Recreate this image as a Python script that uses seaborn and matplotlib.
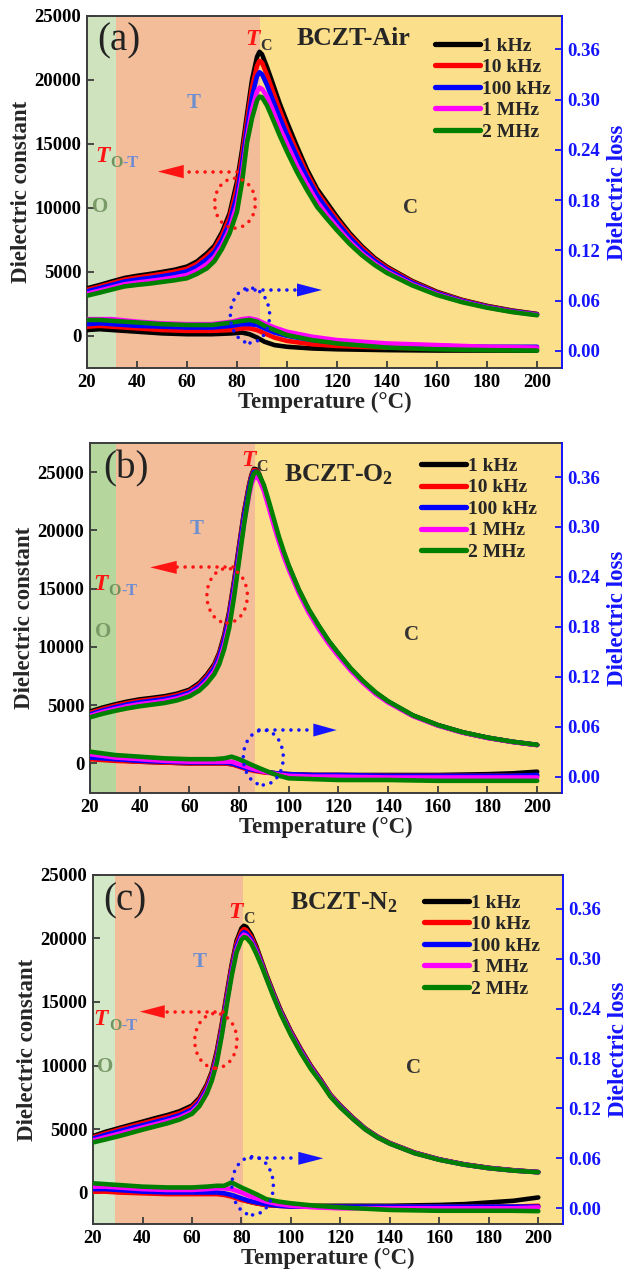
import matplotlib
matplotlib.use("Agg")
import matplotlib.pyplot as plt
from matplotlib.patches import Ellipse
from matplotlib.transforms import offset_copy
import pandas as pd
import seaborn as sns

# ---------------------------------------------------------------- data
freqs = ["1 kHz", "10 kHz", "100 kHz", "1 MHz", "2 MHz"]
colors = ["#000000", "#ff0000", "#0000ff", "#ff00ff", "#008000"]

# BCZT-Air : dielectric constant
temp_eps_air = [20, 25, 30, 35, 40, 45, 50, 55, 60, 64, 68, 71, 74, 77, 80, 82, 84, 86, 88, 89,
                90, 92, 94, 97, 100, 104, 108, 112, 116, 120, 125, 130, 135, 140, 150, 160, 170, 180, 190, 200]
eps_air_1k = [3720, 3980, 4260, 4530, 4700, 4840, 5000, 5170, 5420, 5820, 6460, 7050, 8100, 9550, 12050, 14500, 17300, 20000, 21800, 22200,
              22000, 21000, 19900, 18200, 16700, 14800, 13000, 11500, 10400, 9300, 8050, 7000, 6100, 5400, 4300, 3450, 2820, 2350, 1990, 1720]
eps_air_10k = [3600, 3860, 4130, 4400, 4560, 4700, 4850, 5020, 5250, 5640, 6250, 6830, 7850, 9250, 11600, 14000, 16800, 19400, 21100, 21500,
               21350, 20400, 19300, 17700, 16200, 14400, 12700, 11250, 10150, 9100, 7900, 6880, 6000, 5320, 4240, 3400, 2790, 2320, 1960, 1700]
eps_air_100k = [3480, 3730, 3990, 4250, 4400, 4530, 4670, 4830, 5050, 5420, 6000, 6550, 7500, 8850, 11000, 13400, 16200, 18700, 20300, 20600,
                20450, 19600, 18600, 17100, 15700, 14000, 12400, 11000, 9900, 8850, 7700, 6700, 5880, 5200, 4160, 3340, 2740, 2280, 1930, 1680]
eps_air_1M = [3300, 3540, 3790, 4040, 4170, 4290, 4420, 4570, 4760, 5110, 5620, 6180, 7100, 8350, 10300, 12600, 15500, 17700, 19100, 19400,
              19300, 18700, 17800, 16300, 15000, 13300, 11850, 10500, 9450, 8500, 7400, 6450, 5680, 5030, 4040, 3260, 2680, 2240, 1890, 1650]
eps_air_2M = [3150, 3380, 3630, 3870, 3990, 4090, 4220, 4350, 4510, 4850, 5290, 5850, 6800, 8000, 9710, 12000, 15100, 17000, 18400, 18700,
              18650, 18000, 17100, 15700, 14400, 12800, 11400, 10100, 9150, 8250, 7200, 6300, 5550, 4920, 3960, 3200, 2640, 2210, 1870, 1620]

# BCZT-Air : dielectric loss
temp_loss_air = [20, 25, 30, 40, 50, 60, 70, 78, 82, 85, 88, 91, 95, 100, 110, 120, 140, 160, 180, 200]
loss_air_1k = [0.025, 0.026, 0.025, 0.023, 0.021, 0.020, 0.020, 0.021, 0.022, 0.020, 0.016, 0.011, 0.007, 0.005, 0.003, 0.002, 0.001, 0.0005, 0.0005, 0.0005]
loss_air_10k = [0.029, 0.030, 0.029, 0.027, 0.025, 0.024, 0.024, 0.025, 0.027, 0.027, 0.025, 0.021, 0.016, 0.012, 0.008, 0.006, 0.004, 0.003, 0.002, 0.002]
loss_air_100k = [0.032, 0.033, 0.032, 0.030, 0.029, 0.028, 0.028, 0.030, 0.032, 0.032, 0.031, 0.027, 0.022, 0.018, 0.013, 0.010, 0.007, 0.006, 0.005, 0.005]
loss_air_1M = [0.038, 0.038, 0.038, 0.035, 0.033, 0.032, 0.032, 0.035, 0.038, 0.039, 0.037, 0.033, 0.028, 0.023, 0.017, 0.013, 0.009, 0.007, 0.005, 0.004]
loss_air_2M = [0.037, 0.037, 0.036, 0.034, 0.032, 0.031, 0.031, 0.034, 0.036, 0.037, 0.035, 0.030, 0.025, 0.019, 0.013, 0.009, 0.004, 0.002, 0.001, 0.0005]

# BCZT-O2 : dielectric constant
temp_eps_o2 = [20, 25, 30, 35, 40, 45, 50, 55, 60, 64, 67, 70, 72, 74, 76, 78, 80, 82, 84, 85, 86, 87,
               88, 90, 92, 94, 96, 98, 100, 104, 108, 112, 116, 120, 125, 130, 135, 140, 150, 160, 170, 180, 190, 200]
eps_o2_1k = [4450, 4780, 5060, 5300, 5490, 5620, 5760, 5980, 6320, 6900, 7600, 8500, 9500, 11000, 13000, 15700, 18700, 21600, 23900, 24800, 25300, 25250,
             24900, 23700, 22200, 20700, 19300, 18000, 16900, 14900, 13200, 11800, 10500, 9400, 8100, 7000, 6050, 5300, 4100, 3280, 2660, 2200, 1850, 1580]
eps_o2_10k = [4330, 4660, 4940, 5180, 5370, 5500, 5640, 5860, 6200, 6770, 7460, 8350, 9350, 10800, 12800, 15500, 18500, 21450, 23800, 24700, 25200, 25150,
              24850, 23650, 22150, 20650, 19250, 17950, 16850, 14850, 13150, 11750, 10450, 9350, 8060, 6970, 6020, 5280, 4090, 3270, 2650, 2195, 1845, 1575]
eps_o2_100k = [4200, 4530, 4810, 5050, 5240, 5370, 5510, 5730, 6070, 6630, 7300, 8180, 9170, 10600, 12550, 15250, 18250, 21250, 23600, 24550, 25050, 25050,
               24800, 23650, 22150, 20650, 19250, 17950, 16850, 14850, 13150, 11750, 10450, 9350, 8060, 6970, 6020, 5280, 4090, 3270, 2650, 2195, 1845, 1575]
eps_o2_1M = [4080, 4400, 4660, 4900, 5080, 5210, 5350, 5570, 5910, 6430, 7050, 7900, 8800, 10150, 12000, 14700, 17700, 20700, 23000, 24000, 24500, 24600,
             24400, 23400, 21950, 20450, 19050, 17750, 16650, 14650, 12950, 11550, 10300, 9200, 7950, 6880, 5950, 5220, 4050, 3240, 2630, 2175, 1830, 1560]
eps_o2_2M = [3950, 4250, 4500, 4720, 4900, 5040, 5180, 5400, 5750, 6250, 6850, 7650, 8500, 9800, 11600, 14300, 17400, 20500, 23200, 24300, 24900, 25050,
             24850, 23900, 22500, 21000, 19500, 18200, 17000, 14950, 13250, 11850, 10550, 9450, 8150, 7050, 6100, 5330, 4120, 3290, 2670, 2210, 1855, 1585]

# BCZT-O2 : dielectric loss
temp_loss_o2 = [20, 25, 30, 40, 50, 60, 70, 74, 77, 80, 83, 86, 90, 95, 100, 110, 120, 140, 160, 180, 190, 200]
loss_o2_1k = [0.022, 0.021, 0.020, 0.018, 0.017, 0.016, 0.016, 0.016, 0.015, 0.013, 0.010, 0.008, 0.006, 0.004, 0.003, 0.002, 0.002, 0.002, 0.002, 0.003, 0.004, 0.006]
loss_o2_10k = [0.021, 0.020, 0.019, 0.018, 0.017, 0.016, 0.016, 0.016, 0.015, 0.012, 0.009, 0.007, 0.005, 0.004, 0.003, 0.002, 0.002, 0.001, 0.001, 0.001, 0.001, 0.001]
loss_o2_100k = [0.023, 0.022, 0.021, 0.019, 0.018, 0.017, 0.017, 0.017, 0.016, 0.013, 0.010, 0.008, 0.006, 0.004, 0.003, 0.002, 0.002, 0.001, 0.001, 0.001, 0.001, 0.002]
loss_o2_1M = [0.027, 0.025, 0.023, 0.021, 0.019, 0.018, 0.018, 0.018, 0.018, 0.015, 0.012, 0.009, 0.006, 0.003, 0.001, 0.000, 0.000, -0.001, -0.001, -0.001, -0.001, -0.001]
loss_o2_2M = [0.030, 0.028, 0.026, 0.024, 0.022, 0.021, 0.021, 0.022, 0.024, 0.021, 0.017, 0.013, 0.008, 0.002, -0.002, -0.003, -0.004, -0.004, -0.005, -0.005, -0.005, -0.005]

# BCZT-N2 : dielectric constant
temp_eps_n2 = [20, 25, 30, 35, 40, 45, 50, 55, 60, 63, 66, 68, 70, 72, 74, 76, 78, 80, 81, 82, 84,
               86, 88, 90, 93, 96, 100, 104, 108, 112, 116, 120, 125, 130, 135, 140, 150, 160, 170, 180, 190, 200]
eps_n2_1k = [4450, 4780, 5050, 5320, 5580, 5850, 6100, 6400, 6850, 7450, 8500, 9500, 11100, 13200, 15600, 17900, 19800, 20800, 21000, 20900, 20300,
             19400, 18300, 17200, 15700, 14300, 12700, 11300, 10000, 8900, 7700, 6850, 5900, 5050, 4400, 3900, 3150, 2620, 2230, 1950, 1760, 1620]
eps_n2_10k = [4350, 4660, 4930, 5200, 5450, 5710, 5960, 6250, 6700, 7300, 8350, 9350, 10900, 13000, 15400, 17700, 19600, 20550, 20750, 20650, 20100,
              19250, 18200, 17100, 15620, 14230, 12640, 11250, 9960, 8870, 7680, 6830, 5880, 5030, 4390, 3890, 3140, 2610, 2220, 1940, 1750, 1615]
eps_n2_100k = [4250, 4540, 4800, 5060, 5300, 5550, 5800, 6090, 6530, 7130, 8150, 9150, 10650, 12750, 15150, 17450, 19350, 20300, 20500, 20400, 19900,
               19100, 18100, 17000, 15550, 14150, 12560, 11170, 9890, 8810, 7630, 6790, 5850, 5010, 4370, 3870, 3120, 2600, 2210, 1930, 1740, 1610]
eps_n2_1M = [4100, 4360, 4610, 4870, 5120, 5370, 5620, 5910, 6360, 6960, 7970, 8970, 10400, 12500, 14900, 17200, 19100, 20100, 20300, 20200, 19750,
             18950, 18000, 16950, 15470, 14070, 12480, 11080, 9820, 8750, 7590, 6740, 5820, 4990, 4350, 3860, 3110, 2590, 2205, 1925, 1735, 1605]
eps_n2_2M = [3950, 4180, 4420, 4680, 4950, 5200, 5450, 5750, 6200, 6800, 7800, 8800, 10200, 12300, 14700, 17000, 18900, 19900, 20100, 20050, 19600,
             18800, 17900, 16900, 15400, 14000, 12400, 11000, 9750, 8700, 7550, 6700, 5800, 4980, 4340, 3850, 3100, 2580, 2200, 1920, 1730, 1600]

# BCZT-N2 : dielectric loss
temp_loss_n2 = [20, 25, 30, 40, 50, 60, 66, 70, 73, 76, 78, 80, 83, 86, 90, 95, 100, 110, 120, 140, 160, 170, 180, 190, 200]
loss_n2_1k = [0.021, 0.021, 0.020, 0.019, 0.018, 0.018, 0.018, 0.018, 0.017, 0.015, 0.013, 0.011, 0.008, 0.006, 0.004, 0.003, 0.003, 0.003, 0.003, 0.003, 0.004, 0.005, 0.007, 0.009, 0.013]
loss_n2_10k = [0.020, 0.020, 0.019, 0.018, 0.017, 0.017, 0.017, 0.017, 0.016, 0.014, 0.012, 0.010, 0.008, 0.006, 0.004, 0.003, 0.002, 0.002, 0.002, 0.002, 0.002, 0.002, 0.002, 0.002, 0.003]
loss_n2_100k = [0.023, 0.023, 0.022, 0.020, 0.019, 0.019, 0.019, 0.019, 0.018, 0.016, 0.014, 0.012, 0.009, 0.007, 0.005, 0.003, 0.002, 0.002, 0.002, 0.002, 0.002, 0.002, 0.002, 0.002, 0.002]
loss_n2_1M = [0.026, 0.026, 0.025, 0.023, 0.022, 0.022, 0.023, 0.024, 0.024, 0.023, 0.021, 0.019, 0.015, 0.012, 0.008, 0.005, 0.003, 0.001, 0.000, 0.000, 0.000, 0.000, 0.000, 0.000, 0.001]
loss_n2_2M = [0.030, 0.029, 0.028, 0.026, 0.025, 0.025, 0.026, 0.027, 0.027, 0.031, 0.028, 0.025, 0.021, 0.017, 0.011, 0.008, 0.006, 0.003, 0.001, -0.002, -0.003, -0.003, -0.003, -0.003, -0.0035]

# phase boundaries (°C): O|T and T|C
bounds_air = [31.5, 89.4]
bounds_o2 = [30.5, 86.5]
bounds_n2 = [28.9, 80.6]

x_ticks = [20, 40, 60, 80, 100, 120, 140, 160, 180, 200]
eps_ticks = [0, 5000, 10000, 15000, 20000, 25000]
loss_ticks = [0.00, 0.06, 0.12, 0.18, 0.24, 0.30, 0.36]

# ---------------------------------------------------------------- style
sns.set_style("ticks")
plt.rcParams["font.family"] = ["Liberation Serif", "DejaVu Serif"]
plt.rcParams["font.weight"] = "bold"
plt.rcParams["axes.labelweight"] = "bold"
plt.rcParams["mathtext.fontset"] = "custom"
plt.rcParams["mathtext.rm"] = "Liberation Serif"
plt.rcParams["mathtext.bf"] = "Liberation Serif:bold"
plt.rcParams["mathtext.it"] = "Liberation Serif:italic"

GREEN_O = ["#cfe3bf", "#b5d69c", "#d3e8c7"]
ORANGE_T = "#f3bd99"
YELLOW_C = "#fcdf8b"
RED = "#ff1414"
BLUE = "#1414ff"
FRAME = "#3c3c3c"
DOTS = (0, (0.01, 2.2))


def long_frame(temp, series, name):
    rows = []
    for f, vals in zip(freqs, series):
        rows.append(pd.DataFrame({"Temperature": temp, name: vals, "Frequency": f}))
    return pd.concat(rows, ignore_index=True)


def dotted_loop(axis, center, w, h, line_y, line_x0, head_base, head_tip, half_h, color):
    axis.add_patch(Ellipse(center, w, h, fill=False, edgecolor=color, lw=2.6,
                           ls=DOTS, capstyle="round", zorder=6))
    axis.plot([line_x0, head_base], [line_y, line_y], color=color, lw=2.6, ls=DOTS,
              dash_capstyle="round", zorder=6)
    axis.fill([head_tip, head_base, head_base], [line_y, line_y + half_h, line_y - half_h],
              color=color, lw=0, zorder=6)


def panel(rect, letter, name, temp_eps, eps, temp_loss, loss, bounds, green,
          ylim, ylim2, pos, red_loop, blue_loop, leg_anchor):
    ax = fig.add_axes(rect)
    ax.axvspan(20, bounds[0], color=green, lw=0, zorder=0)
    ax.axvspan(bounds[0], bounds[1], color=ORANGE_T, lw=0, zorder=0)
    ax.axvspan(bounds[1], 210, color=YELLOW_C, lw=0, zorder=0)

    d_eps = long_frame(temp_eps, eps, "eps")
    sns.lineplot(data=d_eps, x="Temperature", y="eps", hue="Frequency", hue_order=freqs,
                 palette=colors, estimator=None, lw=3.3, ax=ax, zorder=3)
    ax.set_xlim(20, 210)
    ax.set_ylim(*ylim)
    ax.set_xticks(x_ticks)
    ax.set_yticks(eps_ticks)
    ax.set_xlabel("Temperature (°C)", fontsize=16.5, labelpad=1)
    ax.set_ylabel("Dielectric constant", fontsize=16.5, labelpad=2)
    ax.tick_params(direction="in", length=5, width=1.3, labelsize=13.5, colors=FRAME,
                   labelcolor="black", pad=4)
    for s in ["left", "top", "bottom"]:
        ax.spines[s].set_color(FRAME)
        ax.spines[s].set_linewidth(1.4)
    ax.spines["right"].set_visible(False)

    handles, labels = ax.get_legend_handles_labels()
    leg = ax.legend(handles, labels, loc="upper left", bbox_to_anchor=leg_anchor,
                    frameon=False, fontsize=14, labelspacing=0.2, handlelength=2.3,
                    handletextpad=0.1, borderpad=0, borderaxespad=0)
    for h in leg.legend_handles:
        h.set_linewidth(3.8)

    ax2 = ax.twinx()
    d_loss = long_frame(temp_loss, loss, "loss")
    sns.lineplot(data=d_loss, x="Temperature", y="loss", hue="Frequency", hue_order=freqs,
                 palette=colors, estimator=None, lw=3.3, ax=ax2, legend=False, zorder=3)
    ax2.set_xlim(20, 210)
    ax2.set_ylim(*ylim2)
    ax2.set_yticks(loss_ticks)
    ax2.set_yticklabels([f"{v:.2f}" for v in loss_ticks])
    ax2.set_ylabel("Dielectric loss", fontsize=16.5, color=BLUE, labelpad=5)
    ax2.tick_params(direction="in", length=5, width=1.3, labelsize=13.5, colors=BLUE, pad=4)
    for s in ["left", "top", "bottom"]:
        ax2.spines[s].set_visible(False)
    ax2.spines["right"].set_color(BLUE)
    ax2.spines["right"].set_linewidth(1.4)

    # panel annotations
    t = ax.transAxes
    ax.text(*pos["letter"], letter, transform=t, fontsize=28, fontweight="normal",
            ha="left", va="center", color="#222222")
    ax.text(*pos["name"], name, transform=t, fontsize=18.5, ha="right", va="center")
    ax.text(*pos["tc"], "T", transform=t, fontsize=17, style="italic", color=RED,
            ha="right", va="baseline")
    ax.text(*pos["tc"], "C", transform=offset_copy(t, fig=fig, x=0.5, y=-3.5, units="points"),
            fontsize=11.5, color="#333333", ha="left", va="baseline")
    ax.text(*pos["tot"], "T", transform=t, fontsize=17, style="italic", color=RED,
            ha="right", va="baseline")
    sub_o = ax.text(*pos["tot"], "O", transform=offset_copy(t, fig=fig, x=0.5, y=-3.5, units="points"),
                    fontsize=11.5, color="#6f9460", ha="left", va="baseline")
    ax.annotate("-T", xy=(1, 0), xycoords=sub_o, fontsize=11.5, color="#6a8ad6",
                ha="left", va="bottom")
    ax.text(*pos["O"], "O", transform=t, fontsize=15, color="#7a9a68", ha="center", va="center")
    ax.text(*pos["T"], "T", transform=t, fontsize=15, color="#6d8fd0", ha="center", va="center")
    ax.text(*pos["C"], "C", transform=t, fontsize=15, color="#333333", ha="center", va="center")

    dotted_loop(ax, *red_loop, RED)
    dotted_loop(ax2, *blue_loop, BLUE)
    return ax


fig = plt.figure(figsize=(6.29, 12.75), dpi=100)

panel([0.1383, 0.7114, 0.7552, 0.2761], "(a)", "BCZT-Air", temp_eps_air,
      [eps_air_1k, eps_air_10k, eps_air_100k, eps_air_1M, eps_air_2M], temp_loss_air,
      [loss_air_1k, loss_air_10k, loss_air_100k, loss_air_1M, loss_air_2M],
      bounds_air, GREEN_O[0], (-2500, 25000), (-0.0203, 0.40),
      {"letter": (0.021, 0.928), "name": (0.68, 0.935), "tc": (0.364, 0.918),
       "tot": (0.048, 0.585), "O": (0.028, 0.457), "T": (0.225, 0.753), "C": (0.68, 0.455)},
      ((79.2, 10370), 16.3, 3900, 12840, 80, 58.7, 48.3, 520),
      ((85.2, 0.0424), 15.7, 0.0657, 0.0728, 84, 104, 114, 0.0078),
      (0.733, 0.94))

panel([0.1431, 0.3778, 0.7504, 0.2745], "(b)", r"BCZT-O$_\mathbf{2}$", temp_eps_o2,
      [eps_o2_1k, eps_o2_10k, eps_o2_100k, eps_o2_1M, eps_o2_2M], temp_loss_o2,
      [loss_o2_1k, loss_o2_10k, loss_o2_100k, loss_o2_1M, loss_o2_2M],
      bounds_o2, GREEN_O[1], (-2580, 27490), (-0.0200, 0.4005),
      {"letter": (0.028, 0.927), "name": (0.642, 0.91), "tc": (0.35, 0.935),
       "tot": (0.038, 0.58), "O": (0.028, 0.462), "T": (0.226, 0.755), "C": (0.681, 0.452)},
      ((75.2, 14400), 16.3, 4700, 16830, 77.7, 54.9, 44.2, 560),
      ((89.75, 0.023), 16.1, 0.066, 0.056, 88, 109.9, 119.3, 0.0078),
      (0.701, 0.96))

panel([0.1479, 0.0398, 0.7472, 0.2740], "(c)", r"BCZT-N$_\mathbf{2}$", temp_eps_n2,
      [eps_n2_1k, eps_n2_10k, eps_n2_100k, eps_n2_1M, eps_n2_2M], temp_loss_n2,
      [loss_n2_1k, loss_n2_10k, loss_n2_100k, loss_n2_1M, loss_n2_2M],
      bounds_n2, GREEN_O[2], (-2490, 25000), (-0.0192, 0.4005),
      {"letter": (0.021, 0.926), "name": (0.649, 0.92), "tc": (0.319, 0.877),
       "tot": (0.032, 0.57), "O": (0.025, 0.451), "T": (0.227, 0.75), "C": (0.681, 0.448)},
      ((69.65, 11950), 17.1, 4320, 14240, 72.6, 49, 38.9, 510),
      ((84.5, 0.027), 16.8, 0.070, 0.060, 84, 103, 113.1, 0.0078),
      (0.704, 0.945))

fig.savefig("out.png", dpi=100)
